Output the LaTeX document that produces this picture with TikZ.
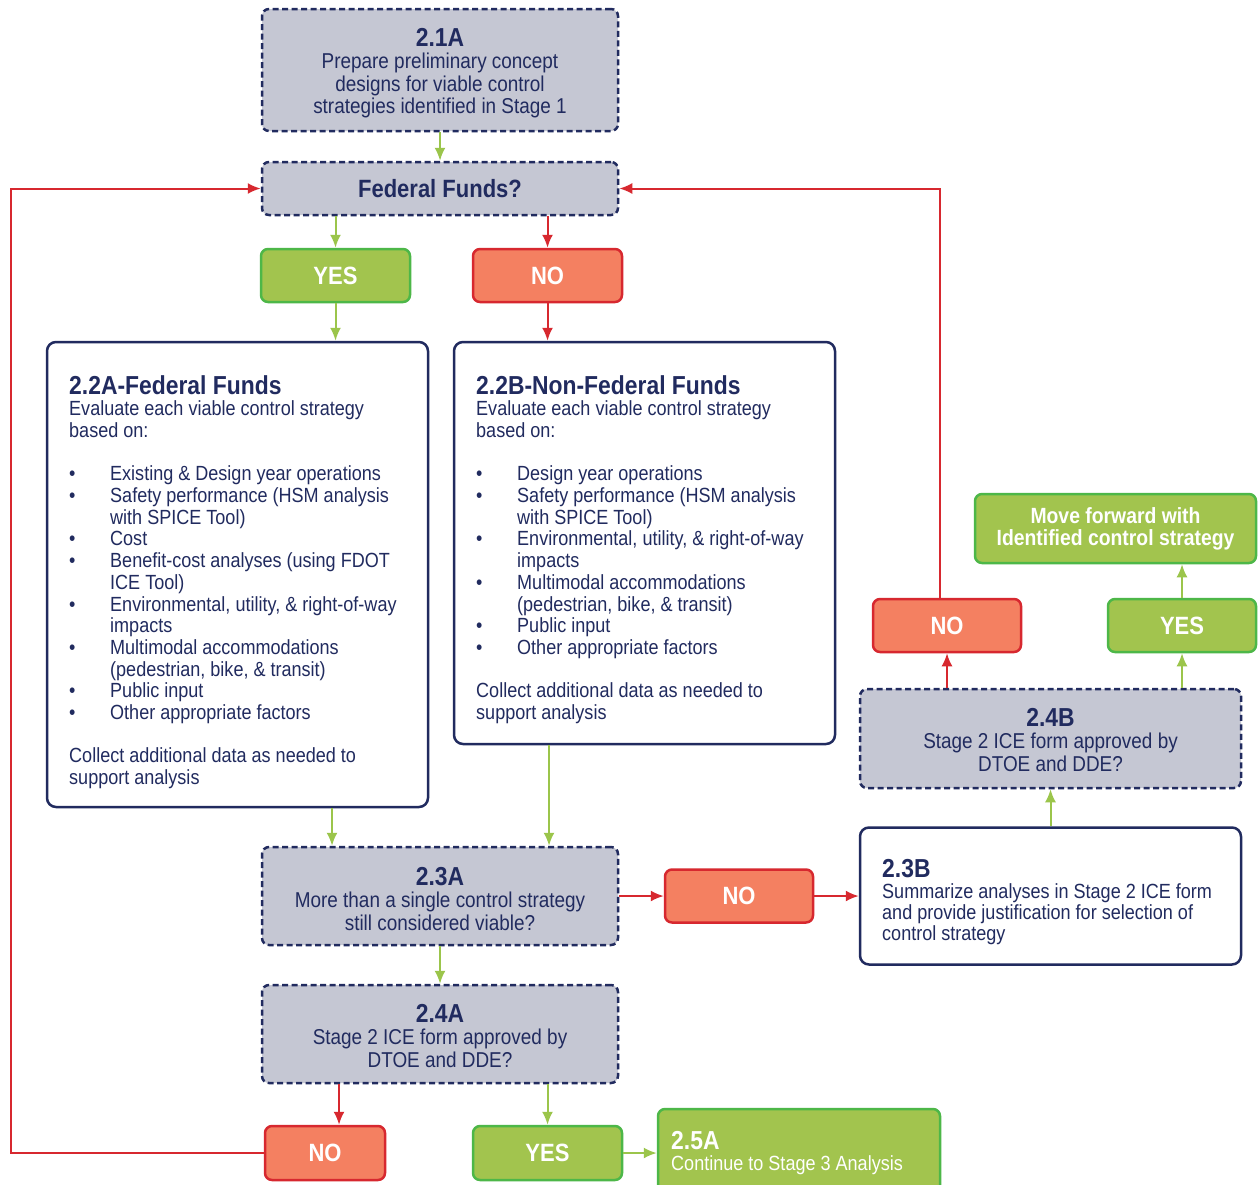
\documentclass[tikz,border=0pt]{standalone}
\usepackage{fontspec}
\setmainfont[FakeStretch=0.88]{Liberation Sans}
\usetikzlibrary{arrows.meta,calc}
\definecolor{navy}{RGB}{33,43,95}
\definecolor{grayfill}{RGB}{197,199,211}
\definecolor{greenfill}{RGB}{162,196,78}
\definecolor{greenline}{RGB}{77,183,72}
\definecolor{arrowgreen}{RGB}{155,197,75}
\definecolor{salmon}{RGB}{244,128,97}
\definecolor{redline}{RGB}{215,40,47}
\newcommand\boxtitle[1]{{\fontsize{26}{26}\selectfont\bfseries #1}}
\newcommand\bitem{\makebox[41pt][l]{\textbullet}}
\newcommand\bcont{\hspace*{41pt}}
\tikzset{
  graybox/.style={draw=navy, fill=grayfill, line width=2.5pt, dash pattern=on 6pt off 3.5pt, rounded corners=7pt, inner sep=0pt},
  whitebox/.style={draw=navy, fill=white, line width=2.5pt, rounded corners=9pt, inner sep=0pt},
  yesbox/.style={draw=greenline, fill=greenfill, line width=2.5pt, rounded corners=7pt, text=white, font=\fontsize{25}{25}\selectfont\bfseries, inner sep=0pt},
  nobox/.style={draw=redline, fill=salmon, line width=2.5pt, rounded corners=7pt, text=white, font=\fontsize{25}{25}\selectfont\bfseries, inner sep=0pt},
  graytext/.style={text=navy, align=center, inner sep=0pt, anchor=north, font=\fontsize{21.5}{22.5}\selectfont},
  listtext/.style={text=navy, align=left, inner sep=0pt, anchor=north west, font=\fontsize{20.5}{21.7}\selectfont},
  garrow/.style={draw=arrowgreen, line width=2pt, -{Latex[length=13pt,width=11pt]}},
  rarrow/.style={draw=redline, line width=2pt, -{Latex[length=13pt,width=11pt]}},
}
\begin{document}
\begin{tikzpicture}[x=1pt,y=-1pt]
\useasboundingbox[fill=white] (0,0) rectangle (1258,1184);

% boxes
\node[graybox, minimum width=356pt, minimum height=122pt] (b21) at (440,70) {};
\node[graytext] (t21) at (440,28) {\boxtitle{2.1A}\\Prepare preliminary concept\\designs for viable control\\strategies identified in Stage 1};

\node[graybox, minimum width=356pt, minimum height=53pt, text=navy, font=\fontsize{25}{25}\selectfont\bfseries] (ff) at (440,188.5) {Federal Funds?};

\node[yesbox, minimum width=149pt, minimum height=53pt] (yes1) at (335.5,275.5) {YES};
\node[nobox, minimum width=149pt, minimum height=53pt] (no1) at (547.5,275.5) {NO};

\node[whitebox, minimum width=381pt, minimum height=465pt] (b22a) at (237.5,574.5) {};
\node[listtext] (t22a) at (69,375) {\boxtitle{2.2A-Federal Funds}\\
Evaluate each viable control strategy\\
based on:\\[21.7pt]
\bitem Existing \& Design year operations\\
\bitem Safety performance (HSM analysis\\
\bcont with SPICE Tool)\\
\bitem Cost\\
\bitem Benefit-cost analyses (using FDOT\\
\bcont ICE Tool)\\
\bitem Environmental, utility, \& right-of-way\\
\bcont impacts\\
\bitem Multimodal accommodations\\
\bcont (pedestrian, bike, \& transit)\\
\bitem Public input\\
\bitem Other appropriate factors\\[21.7pt]
Collect additional data as needed to\\
support analysis};

\node[whitebox, minimum width=381pt, minimum height=402pt] (b22b) at (644.5,543) {};
\node[listtext] (t22b) at (476,375) {\boxtitle{2.2B-Non-Federal Funds}\\
Evaluate each viable control strategy\\
based on:\\[21.7pt]
\bitem Design year operations\\
\bitem Safety performance (HSM analysis\\
\bcont with SPICE Tool)\\
\bitem Environmental, utility, \& right-of-way\\
\bcont impacts\\
\bitem Multimodal accommodations\\
\bcont (pedestrian, bike, \& transit)\\
\bitem Public input\\
\bitem Other appropriate factors\\[21.7pt]
Collect additional data as needed to\\
support analysis};

\node[graybox, minimum width=356pt, minimum height=98pt] (b23a) at (440,896) {};
\node[graytext] (t23a) at (440,867) {\boxtitle{2.3A}\\More than a single control strategy\\still considered viable?};

\node[nobox, minimum width=148pt, minimum height=53pt] (no2) at (739,896) {NO};

\node[whitebox, minimum width=381pt, minimum height=137pt] (b23b) at (1050.5,896) {};
\node[listtext, font=\fontsize{20.5}{21}\selectfont] (t23b) at (882,859) {\boxtitle{2.3B}\\Summarize analyses in Stage 2 ICE form\\and provide justification for selection of\\control strategy};

\node[graybox, minimum width=381pt, minimum height=99pt] (b24b) at (1050.5,738.5) {};
\node[graytext] (t24b) at (1050.5,708) {\boxtitle{2.4B}\\Stage 2 ICE form approved by\\DTOE and DDE?};

\node[nobox, minimum width=148pt, minimum height=53pt] (no3) at (947,625.5) {NO};
\node[yesbox, minimum width=148pt, minimum height=53pt] (yes3) at (1182,625.5) {YES};

\node[yesbox, minimum width=281pt, minimum height=69pt, align=center, font=\fontsize{22}{22}\selectfont\bfseries] (move) at (1115.5,528.5) {Move forward with\\Identified control strategy};

\node[graybox, minimum width=356pt, minimum height=98pt] (b24a) at (440,1034) {};
\node[graytext] (t24a) at (440,1004) {\boxtitle{2.4A}\\Stage 2 ICE form approved by\\DTOE and DDE?};

\node[nobox, minimum width=120pt, minimum height=54pt] (no4) at (325,1153) {NO};
\node[yesbox, minimum width=149pt, minimum height=54pt] (yes4) at (547.5,1153) {YES};

\node[yesbox, minimum width=282pt, minimum height=90pt] (b25a) at (799,1154) {};
\node[listtext, text=white, font=\fontsize{20.5}{21}\selectfont] (t25a) at (671,1131) {\boxtitle{2.5A}\\Continue to Stage 3 Analysis};

% connectors
\draw[garrow] (b21) -- (ff);
\draw[garrow] (ff.south -| yes1) -- (yes1);
\draw[rarrow] (ff.south -| no1) -- (no1);
\draw[garrow] (yes1) -- (yes1 |- b22a.north);
\draw[rarrow] (no1) -- (no1 |- b22b.north);
\draw[garrow] ([xshift=94.5pt]b22a.south) -- ([xshift=94.5pt]b22a.south |- b23a.north);
\draw[garrow] ([xshift=-95.5pt]b22b.south) -- ([xshift=-95.5pt]b22b.south |- b23a.north);
\draw[garrow] (b23a) -- (b24a);
\draw[rarrow] (b23a) -- (no2);
\draw[rarrow] (no2) -- (b23b);
\draw[garrow] (b23b) -- (b24b);
\draw[rarrow] (b24b.north -| no3) -- (no3);
\draw[garrow] (b24b.north -| yes3) -- (yes3);
\draw[garrow] (yes3) -- (yes3 |- move.south);
\draw[rarrow] ([xshift=-7pt]no3.north) |- (ff.east);
\draw[rarrow] ([xshift=14pt]b24a.south -| no4) -- ([xshift=14pt]no4.north);
\draw[garrow] (b24a.south -| yes4) -- (yes4);
\draw[garrow] (yes4) -- (yes4 -| b25a.west);
\coordinate (lc) at (11,1153);
\draw[rarrow] (no4.west) -- (lc) |- (ff.west);
\end{tikzpicture}
\end{document}
